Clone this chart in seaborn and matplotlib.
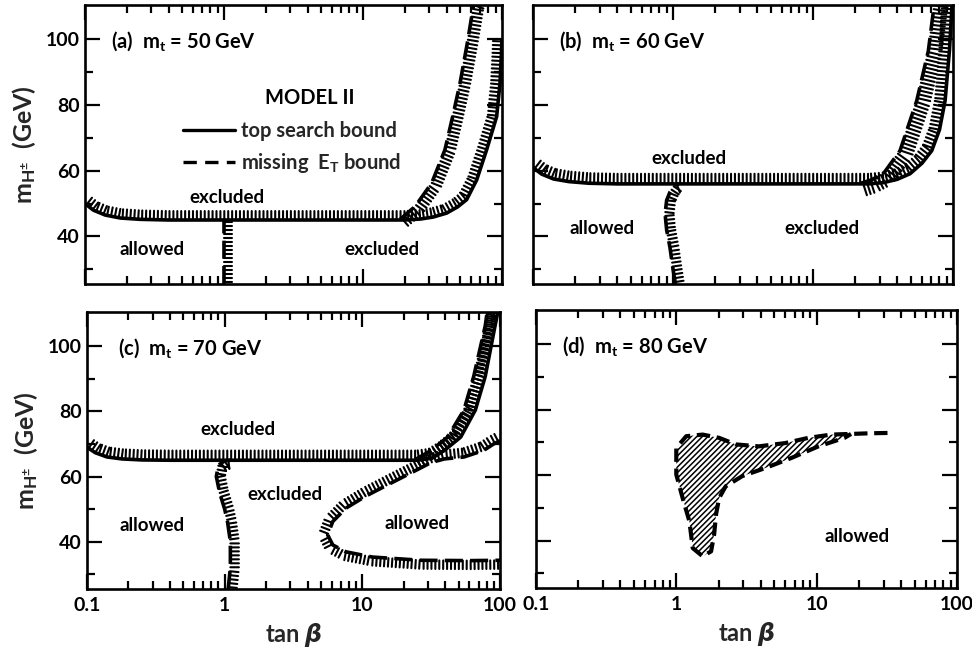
import numpy as np
import pandas as pd
import matplotlib
matplotlib.use("Agg")
import matplotlib.pyplot as plt
import seaborn as sns
from matplotlib import patheffects as pe
from matplotlib.lines import Line2D
from matplotlib.ticker import LogLocator, NullFormatter

# ---------------- data ----------------
x_ticks = [0.1, 1, 10, 100]
x_tick_labels = ["0.1", "1", "10", "100"]
y_ticks = [40, 60, 80, 100]
y_minor = [30, 50, 70, 90]
y_tick_labels = ["40", "60", "80", "100"]

panel_titles = ["(a)  $\\mathregular{m_t}$ = 50 GeV", "(b)  $\\mathregular{m_t}$ = 60 GeV",
                "(c)  $\\mathregular{m_t}$ = 70 GeV", "(d)  $\\mathregular{m_t}$ = 80 GeV"]

# (a) m_t = 50 GeV
a_top_x = [0.1, 0.115, 0.14, 0.18, 0.25, 0.4, 1, 5, 20, 26, 32, 40, 48, 55.7, 65.8, 77.6, 91.6, 96.8, 99, 100]
a_top_y = [50, 48, 46.5, 45.6, 45.2, 45, 45, 45, 45, 45.3, 45.9, 47.1, 49, 51.2, 57.2, 66.4, 76.5, 86.6, 95, 100]
a_met_vert_x = [1.0, 1.0]
a_met_vert_y = [25.5, 45]
a_met_rise_x = [18.5, 23.7, 31.2, 38.9, 44.2, 49.9, 56.3, 62.2, 63.5]
a_met_rise_y = [45.2, 49.1, 56.2, 66.4, 76.5, 86.6, 98.8, 109.9, 111]

# (b) m_t = 60 GeV
b_top_x = [0.1, 0.115, 0.14, 0.18, 0.25, 0.4, 1, 10, 25, 32, 40, 49.3, 60, 70.4, 80, 87.7, 94.2, 97.8, 98.5]
b_top_y = [61, 59, 57.5, 56.7, 56.2, 56, 56, 56, 56, 56.4, 57.4, 59.1, 62.3, 66.1, 72.5, 81.3, 96.5, 108.7, 111]
b_met_vert_x = [1.04, 1.0, 0.95, 0.9, 0.877, 0.9, 0.95, 1.02, 1.1]
b_met_vert_y = [25.5, 30, 36.7, 42, 46.9, 51, 53.5, 55.5, 56]
b_met_rise_x = [22, 26, 31.8, 41.8, 55, 66.6, 72.4, 74]
b_met_rise_y = [56.2, 57.2, 59.1, 66.1, 81.3, 96.5, 108.7, 111]

# (c) m_t = 70 GeV
c_top_x = [0.1, 0.115, 0.14, 0.18, 0.25, 0.4, 1, 10, 25, 32, 39.4, 51.8, 66.2, 78.1, 92, 97]
c_top_y = [69, 67.3, 66, 65.4, 65.1, 65, 65, 65, 65, 65.6, 68, 72.1, 80.4, 90.7, 106.2, 111]
c_met_vert_x = [1.06, 1.1, 1.1, 1.05, 1.0, 0.92, 0.87, 0.9, 1.0, 1.1]
c_met_vert_y = [25.5, 32, 40, 46, 50, 55, 60, 63.5, 64.8, 65]
c_met_rise_x = [24, 31.6, 41.6, 54.7, 64.4, 78.1, 81]
c_met_rise_y = [65.1, 68, 72.1, 80.4, 90.7, 106.2, 111]
c_pocket_x = [100, 90, 76, 54.7, 39.4, 31.6, 24, 15.5, 10.6, 7.6, 6.1, 5.6, 6.1, 7.6, 11.8, 26.8, 60, 100]
c_pocket_y = [71, 70, 68, 66, 65.4, 64.3, 61.7, 57.6, 54, 50.3, 46.2, 42.1, 39, 36.9, 35.3, 34.3, 34.2, 34.3]

# (d) m_t = 80 GeV : excluded island (hatched) and dashed tail
d_region_x = [17.6, 12.7, 8.73, 5.97, 3.87, 2.65, 2.02, 1.54, 1.177, 1.0, 1.0, 1.11, 1.24, 1.31, 1.54,
              1.77, 1.86, 1.92, 2.02, 2.25, 2.95, 4.32, 6.65, 10.3, 15.8, 17.6]
d_region_y = [72.6, 72.4, 71.4, 69.8, 68.8, 69.4, 71.4, 72.4, 71.9, 68.3, 60.2, 53, 45.9, 37.7, 35.2,
              36.7, 41.8, 48, 53, 56.6, 59.7, 62.2, 65.3, 68.8, 71.4, 72.6]
d_tail_x = [32, 24, 17.6]
d_tail_y = [72.9, 72.8, 72.6]

# ---------------- style ----------------
sns.set_theme(style="ticks")
plt.rcParams["font.family"] = ["Lato", "DejaVu Sans"]
plt.rcParams["font.weight"] = "bold"
plt.rcParams["mathtext.fontset"] = "custom"
plt.rcParams["mathtext.rm"] = "Lato:bold"
plt.rcParams["mathtext.bf"] = "Lato:bold"
plt.rcParams["mathtext.sf"] = "Lato:bold"
plt.rcParams["mathtext.it"] = "DejaVu Sans:italic:bold"
plt.rcParams["hatch.linewidth"] = 1.1

fig = plt.figure(figsize=(9.72, 6.49), dpi=100)
positions = [
    [0.0874, 0.5624, 0.4290, 0.4299],
    [0.5484, 0.5624, 0.4321, 0.4299],
    [0.0895, 0.0925, 0.4249, 0.4268],
    [0.5514, 0.0940, 0.4331, 0.4284],
]
axes = [fig.add_axes(p) for p in positions]

TXT = dict(fontsize=13.5, fontweight="bold", color="black")


def ticked(ax, xs, ys, side, dashed=False, tick_len=2.0, lw=2.6):
    df = pd.DataFrame({"x": xs, "y": ys})
    ls = (0, (5, 2.0)) if dashed else "-"
    sns.lineplot(data=df, x="x", y="y", sort=False, estimator=None, ax=ax,
                 color="black", lw=lw, linestyle=ls, solid_capstyle="butt")
    sns.lineplot(data=df, x="x", y="y", sort=False, estimator=None, ax=ax,
                 color="black", lw=1.5,
                 path_effects=[pe.TickedStroke(spacing=2.8, angle=side, length=tick_len)])


for ax in axes:
    ax.set_xscale("log")

ax_a, ax_b, ax_c, ax_d = axes

# (a)
ticked(ax_a, a_top_x, a_top_y, 90, tick_len=2.3)
ticked(ax_a, a_met_vert_x, a_met_vert_y, -90, dashed=True, tick_len=2.0)
ticked(ax_a, a_met_rise_x, a_met_rise_y, -90, dashed=True, tick_len=2.6)

# (b)
ticked(ax_b, b_top_x, b_top_y, 90, tick_len=2.6)
ticked(ax_b, b_met_vert_x, b_met_vert_y, -90, dashed=True, tick_len=2.2)
ticked(ax_b, b_met_rise_x, b_met_rise_y, -90, dashed=True, tick_len=3.4)

# (c)
ticked(ax_c, c_top_x, c_top_y, 90, tick_len=2.5)
ticked(ax_c, c_met_vert_x, c_met_vert_y, -90, dashed=True, tick_len=2.2)
ticked(ax_c, c_met_rise_x, c_met_rise_y, -90, dashed=True, tick_len=2.0)
ticked(ax_c, c_pocket_x, c_pocket_y, -90, dashed=True, tick_len=2.2)

# (d)
ax_d.fill(d_region_x, d_region_y, facecolor="none", edgecolor="black", hatch="//////", linewidth=0)
d_df = pd.DataFrame({"x": d_tail_x + d_region_x, "y": d_tail_y + d_region_y})
sns.lineplot(data=d_df, x="x", y="y", sort=False, estimator=None, ax=ax_d,
             color="black", lw=3.0, linestyle=(0, (3.2, 1.6)))

# axes formatting
for i, ax in enumerate(axes):
    ax.set_xlim(0.1, 100)
    ax.set_ylim(25.5, 110.5)
    ax.set_xticks(x_ticks)
    ax.xaxis.set_minor_locator(LogLocator(base=10, subs=np.arange(2, 10)))
    ax.xaxis.set_minor_formatter(NullFormatter())
    ax.set_yticks(y_ticks)
    ax.set_yticks(y_minor, minor=True)
    ax.tick_params(which="both", direction="in", top=True, right=True, colors="black",
                   labelsize=14, width=1.6)
    ax.tick_params(which="major", length=11)
    ax.tick_params(which="minor", length=5.5)
    ax.tick_params(axis="y", pad=4)
    ax.tick_params(axis="x", pad=6)
    for s in ax.spines.values():
        s.set_linewidth(1.9)
        s.set_color("black")
    if i >= 2:
        ax.set_xticklabels(x_tick_labels, fontweight="bold")
        ax.set_xlabel("tan $\\beta$", fontsize=17, fontweight="bold", labelpad=5)
    else:
        ax.set_xticklabels([])
        ax.set_xlabel("")
    if i % 2 == 0:
        ax.set_yticklabels(y_tick_labels, fontweight="bold")
        ax.set_ylabel("$\\mathregular{m_{H^{\u00b1}}}$  (GeV)", fontsize=18, fontweight="bold", labelpad=5)
    else:
        ax.set_yticklabels([])
        ax.set_ylabel("")
    ax.text(0.062 if i != 2 else 0.074, 0.87, panel_titles[i], transform=ax.transAxes,
            ha="left", va="center", fontsize=14.5, fontweight="bold", color="black")

# region labels
ax_a.text(0.34, 0.309, "excluded", transform=ax_a.transAxes, ha="center", va="center", **TXT)
ax_a.text(0.161, 0.122, "allowed", transform=ax_a.transAxes, ha="center", va="center", **TXT)
ax_a.text(0.713, 0.125, "excluded", transform=ax_a.transAxes, ha="center", va="center", **TXT)

ax_b.text(0.37, 0.45, "excluded", transform=ax_b.transAxes, ha="center", va="center", **TXT)
ax_b.text(0.164, 0.2, "allowed", transform=ax_b.transAxes, ha="center", va="center", **TXT)
ax_b.text(0.687, 0.2, "excluded", transform=ax_b.transAxes, ha="center", va="center", **TXT)

ax_c.text(0.366, 0.574, "excluded", transform=ax_c.transAxes, ha="center", va="center", **TXT)
ax_c.text(0.479, 0.342, "excluded", transform=ax_c.transAxes, ha="center", va="center", **TXT)
ax_c.text(0.158, 0.229, "allowed", transform=ax_c.transAxes, ha="center", va="center", **TXT)
ax_c.text(0.80, 0.235, "allowed", transform=ax_c.transAxes, ha="center", va="center", **TXT)

ax_d.text(0.762, 0.185, "allowed", transform=ax_d.transAxes, ha="center", va="center", **TXT)

# legend in (a)
ax_a.text(0.54, 0.667, "MODEL II", transform=ax_a.transAxes, ha="center", va="center",
          fontsize=14.5, fontweight="bold", color="black")
handles = [Line2D([], [], color="black", lw=2.4, linestyle="-"),
           Line2D([], [], color="black", lw=2.4, linestyle=(0, (4, 2.5)))]
labels = ["top search bound", "missing  $\\mathregular{E_T}$ bound"]
leg = ax_a.legend(handles, labels, loc="upper left",
                  bbox_to_anchor=(0.235, 0.585), frameon=False, borderpad=0, borderaxespad=0,
                  handlelength=2.6, handletextpad=0.3, labelspacing=0.5,
                  prop={"family": "Lato", "weight": "bold", "size": 14.5})

fig.savefig("out.png", dpi=100, facecolor="white")
